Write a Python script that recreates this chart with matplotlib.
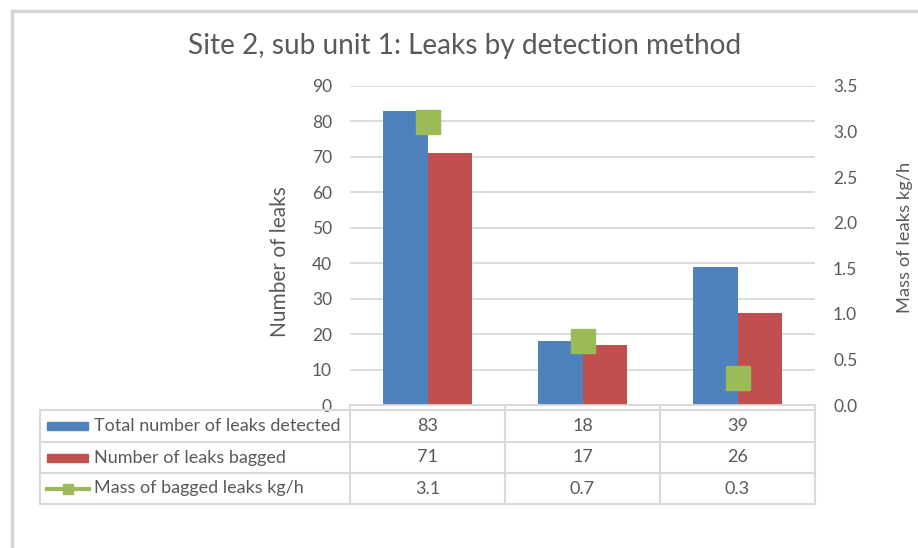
import matplotlib
matplotlib.use("Agg")
import matplotlib.pyplot as plt
from matplotlib.lines import Line2D
from matplotlib.patches import Rectangle
import numpy as np

# ---- data ----
series_names = ["Total number of leaks detected", "Number of leaks bagged", "Mass of bagged leaks kg/h"]
total_leaks = [83, 18, 39]
bagged_leaks = [71, 17, 26]
mass_bagged = [3.1, 0.7, 0.3]
left_ticks = [0, 10, 20, 30, 40, 50, 60, 70, 80, 90]
right_ticks = [0.0, 0.5, 1.0, 1.5, 2.0, 2.5, 3.0, 3.5]

BLUE = "#4F81BD"
RED = "#C0504D"
GREEN = "#9BBB59"
TXT = "#595959"
GRID = "#D9D9D9"
FONT = "Lato"

W, H = 918, 548
fig = plt.figure(figsize=(W / 100, H / 100), dpi=100)
plt.rcParams["font.family"] = [FONT, "DejaVu Sans"]

def fx(x):
    return x / W

def fy(y):
    return 1 - y / H

# plot area in pixels
L, R, T, B = 350, 815, 86, 405
ax = fig.add_axes([fx(L), fy(B), fx(R) - fx(L), fy(T) - fy(B)])
ax2 = ax.twinx()

x = np.arange(len(total_leaks))
bw = 0.29
ax.bar(x - bw / 2, total_leaks, width=bw, color=BLUE, zorder=3)
ax.bar(x + bw / 2, bagged_leaks, width=bw, color=RED, zorder=3)
ax2.plot(x, mass_bagged, linestyle="none", marker="s", markersize=17,
         color=GREEN, zorder=4)

ax.set_xlim(-0.5, len(total_leaks) - 0.5)
ax.set_ylim(0, 90)
ax2.set_ylim(0, 3.5)
ax.set_yticks(left_ticks)
ax.set_yticklabels([str(v) for v in left_ticks])
ax2.set_yticks(right_ticks)
ax2.set_yticklabels([f"{v:.1f}" for v in right_ticks])
ax.set_xticks([])
ax.yaxis.grid(True, color=GRID, linewidth=1.3, zorder=0)
ax.set_axisbelow(True)
for a in (ax, ax2):
    for s in ("top", "left", "right"):
        a.spines[s].set_visible(False)
    a.spines["bottom"].set_color(GRID)
    a.spines["bottom"].set_linewidth(1.3)
ax.tick_params(axis="y", length=0, pad=13, labelsize=12.5, labelcolor=TXT)
ax2.tick_params(axis="y", length=0, pad=13, labelsize=12.5, labelcolor=TXT)

fig.text(fx(280), fy(262), "Number of leaks", rotation=90, fontsize=15,
         color=TXT, ha="center", va="center")
fig.text(fx(905), fy(237), "Mass of leaks kg/h", rotation=90, fontsize=13.2,
         color=TXT, ha="center", va="center")

fig.text(fx(465), fy(46), "Site 2, sub unit 1: Leaks by detection method",
         fontsize=20.2, color=TXT, ha="center", va="center")

# ---- data table ----
col_x = [40, 350, 505, 660, 815]
row_y = [410, 442, 473, 504]
lw = 1.5
for yy in row_y:
    fig.add_artist(Line2D([fx(col_x[0]), fx(col_x[-1])], [fy(yy), fy(yy)],
                          color=GRID, linewidth=lw))
for xx in col_x:
    fig.add_artist(Line2D([fx(xx), fx(xx)], [fy(row_y[0]), fy(row_y[-1])],
                          color=GRID, linewidth=lw))
for xx in col_x[1:]:
    fig.add_artist(Line2D([fx(xx), fx(xx)], [fy(B), fy(row_y[0])],
                          color=GRID, linewidth=lw))

rows = [
    [str(v) for v in total_leaks],
    [str(v) for v in bagged_leaks],
    [f"{v:.1f}" for v in mass_bagged],
]
for i, (name, vals) in enumerate(zip(series_names, rows)):
    yc = (row_y[i] + row_y[i + 1]) / 2
    if i < 2:
        col = BLUE if i == 0 else RED
        fig.add_artist(Rectangle((fx(47), fy(yc + 4)), fx(88) - fx(47),
                                 fy(yc - 4) - fy(yc + 4), color=col))
    else:
        fig.add_artist(Line2D([fx(47), fx(89)], [fy(yc), fy(yc)], color=GREEN,
                              linewidth=3))
        fig.add_artist(Line2D([fx(68)], [fy(yc)], color=GREEN, marker="s",
                              markersize=7, linestyle="none"))
    fig.text(fx(94), fy(yc), name, fontsize=13, color=TXT, ha="left", va="center")
    for j, v in enumerate(vals):
        xc = (col_x[j + 1] + col_x[j + 2]) / 2
        fig.text(fx(xc), fy(yc), v, fontsize=13, color=TXT, ha="center", va="center")

# outer frame lines (top and left)
fig.add_artist(Line2D([fx(12), 1], [fy(11), fy(11)], color="#D4D4D4", linewidth=2.5))
fig.add_artist(Line2D([fx(12), fx(12)], [fy(11), 0], color="#D4D4D4", linewidth=2.5))

fig.savefig("out.png", dpi=100, facecolor="white")
